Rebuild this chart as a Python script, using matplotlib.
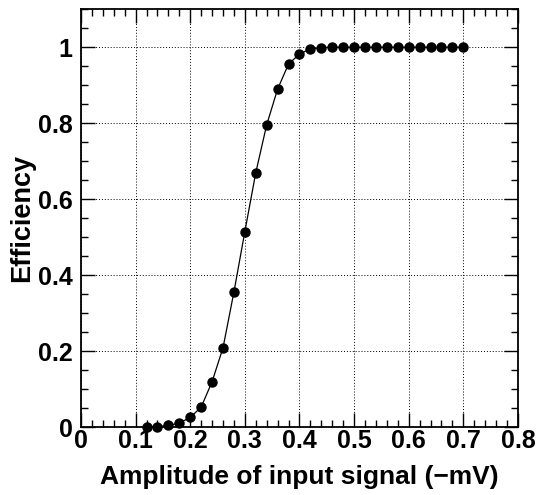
import numpy as np
import matplotlib.pyplot as plt
from matplotlib.ticker import MultipleLocator

plt.rcParams['font.family'] = ['Liberation Sans', 'DejaVu Sans']
plt.rcParams['font.weight'] = 'bold'

amplitude = [0.12, 0.14, 0.16, 0.18, 0.20, 0.22, 0.24, 0.26, 0.28, 0.30,
             0.32, 0.34, 0.36, 0.38, 0.40, 0.42, 0.44, 0.46, 0.48, 0.50,
             0.52, 0.54, 0.56, 0.58, 0.60, 0.62, 0.64, 0.66, 0.68, 0.70]
efficiency = [0.0, 0.002, 0.005, 0.011, 0.026, 0.053, 0.12, 0.209, 0.356, 0.515,
              0.670, 0.796, 0.890, 0.956, 0.982, 0.996, 0.999, 1.0, 1.0, 1.0,
              1.0, 1.0, 1.0, 1.0, 1.0, 1.0, 1.0, 1.0, 1.0, 1.0]
xticks = [0, 0.1, 0.2, 0.3, 0.4, 0.5, 0.6, 0.7, 0.8]
xticklabels = ['0', '0.1', '0.2', '0.3', '0.4', '0.5', '0.6', '0.7', '0.8']
yticks = [0, 0.2, 0.4, 0.6, 0.8, 1.0]
yticklabels = ['0', '0.2', '0.4', '0.6', '0.8', '1']

fig = plt.figure(figsize=(5.38, 4.95), dpi=100)
ax = fig.add_axes([0.1506, 0.1368, 0.812, 0.8444])

ax.plot(amplitude, efficiency, color='black', lw=0.9, marker='o', ms=6.5,
        markerfacecolor='black', markeredgecolor='black', clip_on=False, zorder=3)

ax.set_xlim(0, 0.8)
ax.set_ylim(0, 1.1)
ax.set_xticks(xticks)
ax.set_xticklabels(xticklabels)
ax.set_yticks(yticks)
ax.set_yticklabels(yticklabels)
ax.xaxis.set_minor_locator(MultipleLocator(0.02))
ax.yaxis.set_minor_locator(MultipleLocator(0.05))
ax.tick_params(which='both', direction='in', top=True, right=True, width=1.0)
ax.tick_params(which='major', length=10, labelsize=18)
ax.tick_params(axis='x', which='major', pad=1)
ax.tick_params(axis='y', which='major', pad=6)
ax.tick_params(which='minor', length=5)
for s in ax.spines.values():
    s.set_linewidth(1.3)

ax.grid(True, which='major', linestyle=(0, (1, 2)), color='black', lw=0.7)
ax.set_axisbelow(True)

ax.set_xlabel('Amplitude of input signal (\u2212mV)', fontsize=19, fontweight='bold', labelpad=9)
ax.set_ylabel('Efficiency', fontsize=19.5, fontweight='bold', labelpad=2)

plt.savefig('out.png', dpi=100)
